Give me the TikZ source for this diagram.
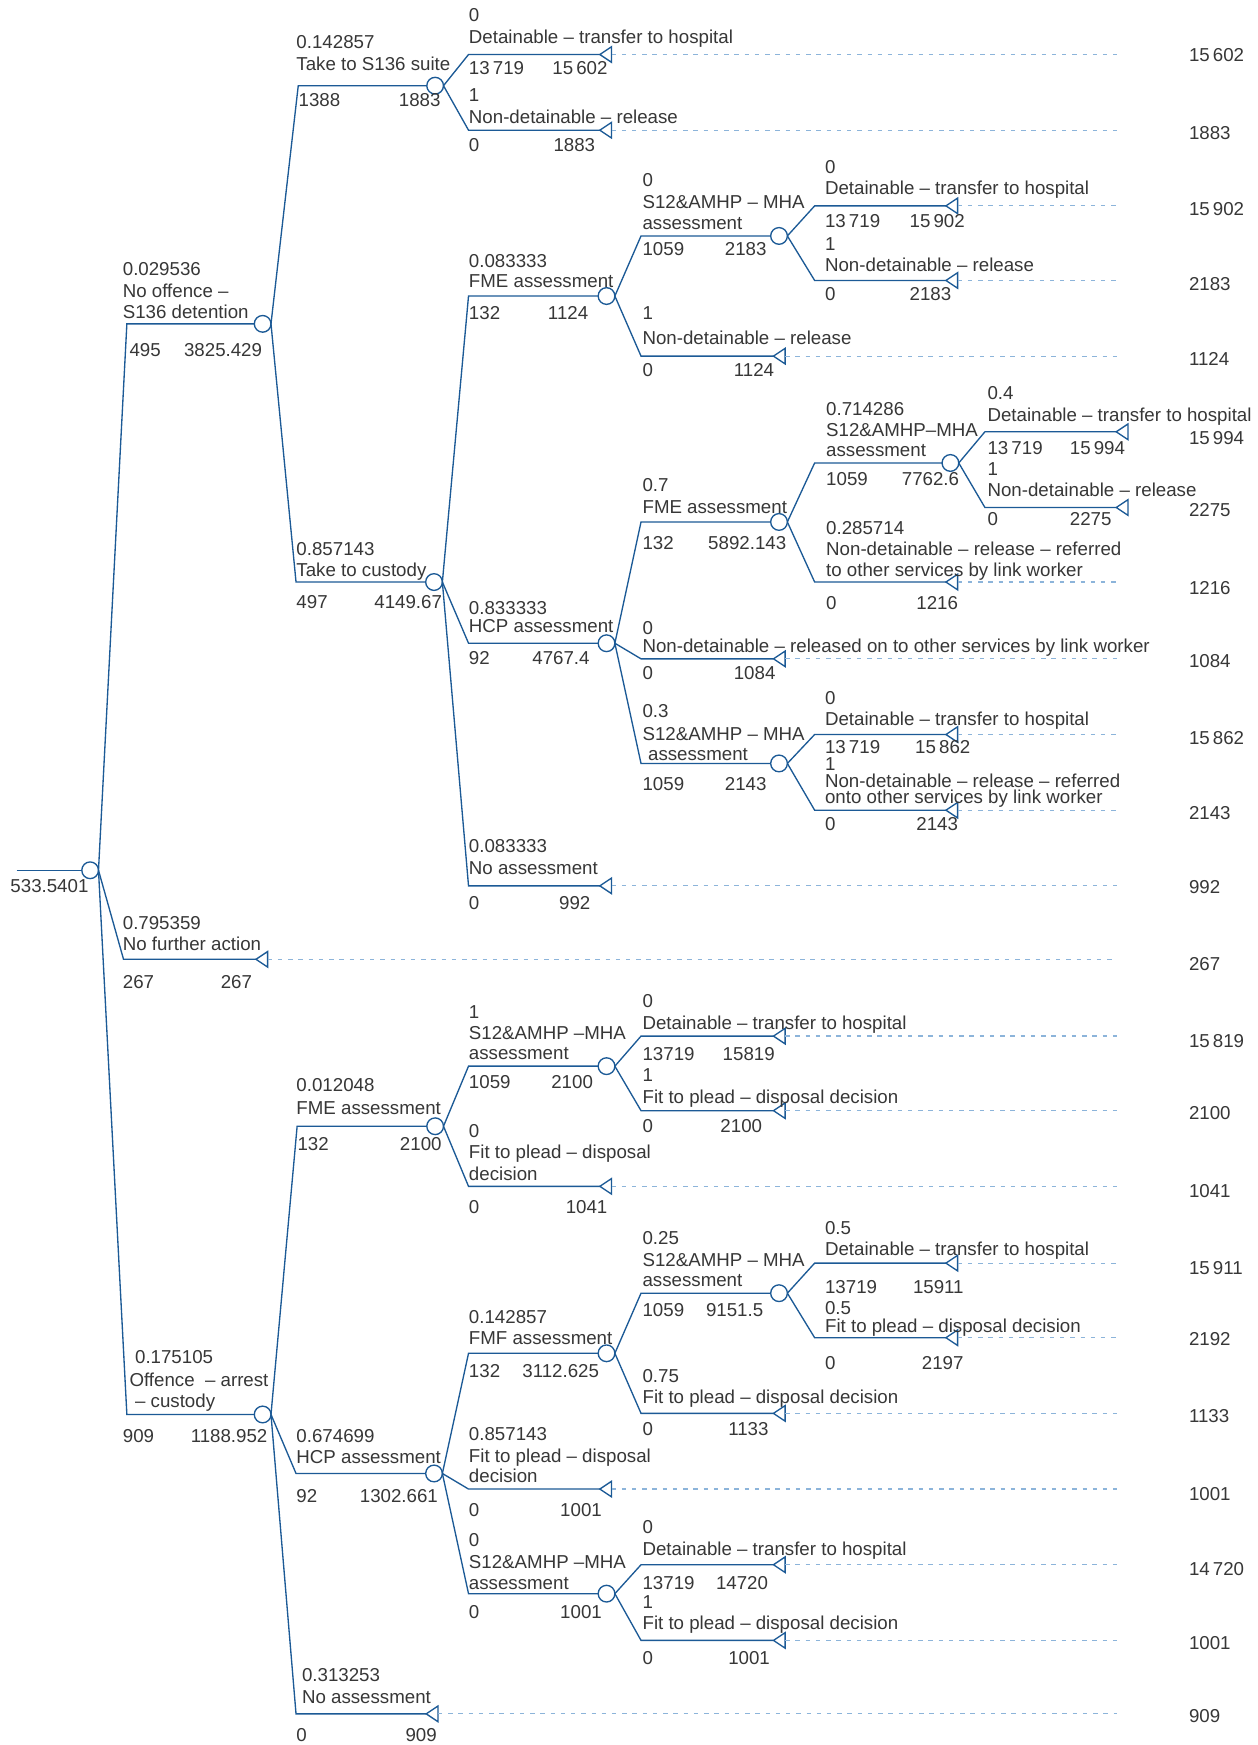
\documentclass[tikz,border=0pt]{standalone}
\usepackage{fontspec}
\setmainfont{Liberation Sans}
\usetikzlibrary{shapes.geometric}
\definecolor{linec}{RGB}{28,90,150}
\definecolor{dotc}{RGB}{140,180,218}
\definecolor{txtc}{RGB}{55,55,55}
\newcounter{lbc}
\newcommand\lb[3]{\stepcounter{lbc}\node[lab] (L\arabic{lbc}) at (#1,#2) {#3};}
\newcommand\tv[2]{\stepcounter{lbc}\node[lab] (V\arabic{lbc}) at (1068,#1) {#2};}
% chance branch: parent, name, xstart, y, xcircle
\newcommand\cbr[5]{%
  \coordinate (#2s) at (#3,#4);
  \node[chance] (#2) at (#5,#4) {};
  \draw[br] (#1.east) -- (#2s) -- (#2.west);}
% terminal branch with dotted leader
\newcommand\tbr[5]{%
  \coordinate (#2s) at (#3,#4);
  \node[term] (#2) at (#5,#4) {};
  \coordinate (#2e) at (1004,#4);
  \draw[br] (#1.east) -- (#2s) -- (#2.apex);
  \draw[dots] (#2.lower side) -- (#2e);}
% terminal branch without leader
\newcommand\tbrn[5]{%
  \coordinate (#2s) at (#3,#4);
  \node[term] (#2) at (#5,#4) {};
  \draw[br] (#1.east) -- (#2s) -- (#2.apex);}
\begin{document}
\begin{tikzpicture}[x=0.5pt,y=-0.5pt,
  br/.style={draw=linec,line width=0.6pt,line join=miter},
  dots/.style={draw=dotc,line width=0.55pt,dash pattern=on 2pt off 2.6pt},
  chance/.style={circle,draw=linec,fill=white,line width=0.6pt,minimum size=7.5pt,inner sep=0pt,outer sep=0pt},
  term/.style={isosceles triangle,isosceles triangle stretches,shape border rotate=180,
    draw=linec,fill=white,line width=0.6pt,minimum width=7pt,minimum height=5.25pt,inner sep=0pt,outer sep=0pt,anchor=apex},
  lab/.style={anchor=base west,inner sep=0pt,text=txtc,font=\fontsize{8.4}{9.5}\selectfont}]
\useasboundingbox (0,0) rectangle (1130,1568);
\fill[white] (0,0) rectangle (1130,1568);
% root
\coordinate (rin) at (15,782);
\node[chance] (root) at (81,782) {};
\draw[br] (rin) -- (root.west);
\lb{9}{802}{533.5401}
% level 1
\cbr{root}{A}{114}{291}{236}
\lb{110}{248}{0.029536}
\lb{110}{267}{No offence –}
\lb{110}{286}{S136 detention}
\lb{116}{320}{495}
\lb{165}{320}{3825.429}
\tbr{root}{N}{111}{862}{230}
\lb{110}{835}{0.795359}
\lb{110}{854}{No further action}
\lb{110}{888}{267}
\lb{198}{888}{267}
\tv{872}{267}
\cbr{root}{C}{114}{1271}{236}
\lb{121}{1225}{0.175105}
\lb{116}{1246}{Offence\ \ – arrest}
\lb{121}{1265}{– custody}
\lb{110}{1296}{909}
\lb{171}{1296}{1188.952}
% A subtree
\cbr{A}{a1}{268}{77}{391}
\lb{266}{44}{0.142857}
\lb{266}{63}{Take to S136 suite}
\lb{268}{96}{1388}
\lb{358}{96}{1883}
\tbr{a1}{a1d}{421}{49}{539}
\lb{421}{19}{0}
\lb{421}{39}{Detainable – transfer to hospital}
\lb{421}{67}{13\,719}
\lb{496}{67}{15\,602}
\tv{55}{15\,602}
\tbr{a1}{a1n}{421}{117}{539}
\lb{421}{91}{1}
\lb{421}{111}{Non-detainable – release}
\lb{421}{136}{0}
\lb{497}{136}{1883}
\tv{125}{1883}
\cbr{A}{a2}{266}{523}{390}
\lb{266}{499}{0.857143}
\lb{266}{518}{Take to custody}
\lb{266}{547}{497}
\lb{336}{547}{4149.67}
\cbr{a2}{fmeA}{421}{266}{545}
\lb{421}{240}{0.083333}
\lb{421}{258}{FME assessment}
\lb{421}{287}{132}
\lb{492}{287}{1124}
\cbr{fmeA}{sA}{576}{212}{700}
\lb{577}{168}{0}
\lb{577}{187}{S12\&AMHP – MHA}
\lb{577}{206}{assessment}
\lb{577}{230}{1059}
\lb{651}{230}{2183}
\tbr{sA}{sA1}{732}{185}{850}
\lb{741}{156}{0}
\lb{741}{175}{Detainable – transfer to hospital}
\lb{741}{204}{13\,719}
\lb{817}{204}{15\,902}
\tv{194}{15\,902}
\tbr{sA}{sA2}{732}{252}{850}
\lb{741}{225}{1}
\lb{741}{244}{Non-detainable – release}
\lb{741}{270}{0}
\lb{817}{270}{2183}
\tv{261}{2183}
\tbr{fmeA}{ndA}{576}{320}{695}
\lb{577}{287}{1}
\lb{577}{310}{Non-detainable – release}
\lb{577}{338}{0}
\lb{659}{338}{1124}
\tv{328}{1124}
\cbr{a2}{hcpA}{421}{578}{545}
\lb{421}{552}{0.833333}
\lb{421}{568}{HCP assessment}
\lb{421}{597}{92}
\lb{478}{597}{4767.4}
\cbr{hcpA}{fmeB}{576}{469}{700}
\lb{577}{442}{0.7}
\lb{577}{461}{FME assessment}
\lb{577}{494}{132}
\lb{636}{494}{5892.143}
\cbr{fmeB}{sB}{732}{416}{854}
\lb{742}{373}{0.714286}
\lb{742}{392}{S12\&AMHP–MHA}
\lb{742}{410}{assessment}
\lb{742}{436}{1059}
\lb{810}{436}{7762.6}
\tbrn{sB}{sB1}{885}{388}{1003}
\lb{887}{359}{0.4}
\lb{887}{379}{Detainable – transfer to hospital}
\lb{887}{408}{13\,719}
\lb{961}{408}{15\,994}
\tv{399}{15\,994}
\tbrn{sB}{sB2}{885}{456}{1003}
\lb{887}{427}{1}
\lb{887}{446}{Non-detainable – release}
\lb{887}{472}{0}
\lb{961}{472}{2275}
\tv{464}{2275}
\tbr{fmeB}{ndB}{732}{523}{850}
\lb{742}{480}{0.285714}
\lb{742}{499}{Non-detainable – release – referred}
\lb{742}{518}{to other services by link worker}
\lb{742}{548}{0}
\lb{823}{548}{1216}
\tv{534}{1216}
\tbr{hcpA}{ndC}{576}{592}{695}
\lb{577}{570}{0}
\lb{577}{586}{Non-detainable – released on to other services by link worker}
\lb{577}{611}{0}
\lb{659}{611}{1084}
\tv{600}{1084}
\cbr{hcpA}{sC}{576}{686}{700}
\lb{577}{645}{0.3}
\lb{577}{665}{S12\&AMHP – MHA}
\lb{582}{683}{assessment}
\lb{577}{710}{1059}
\lb{651}{710}{2143}
\tbr{sC}{sC1}{732}{660}{850}
\lb{741}{633}{0}
\lb{741}{652}{Detainable – transfer to hospital}
\lb{741}{677}{13\,719}
\lb{822}{677}{15\,862}
\tv{669}{15\,862}
\tbr{sC}{sC2}{732}{728}{850}
\lb{741}{692}{1}
\lb{741}{708}{Non-detainable – release – referred}
\lb{741}{722}{onto other services by link worker}
\lb{741}{746}{0}
\lb{823}{746}{2143}
\tv{736}{2143}
\tbr{a2}{naA}{421}{796}{539}
\lb{421}{766}{0.083333}
\lb{421}{786}{No assessment}
\lb{421}{817}{0}
\lb{502}{817}{992}
\tv{803}{992}
% C subtree
\cbr{C}{fmeC}{267}{1012}{391}
\lb{266}{981}{0.012048}
\lb{266}{1001}{FME assessment}
\lb{267}{1034}{132}
\lb{359}{1034}{2100}
\cbr{fmeC}{sD}{421}{958}{545}
\lb{421}{915}{1}
\lb{421}{934}{S12\&AMHP –MHA}
\lb{421}{952}{assessment}
\lb{421}{978}{1059}
\lb{495}{978}{2100}
\tbr{sD}{sD1}{576}{931}{695}
\lb{577}{905}{0}
\lb{577}{925}{Detainable – transfer to hospital}
\lb{577}{953}{13719}
\lb{649}{953}{15819}
\tv{941}{15\,819}
\tbr{sD}{sD2}{576}{998}{695}
\lb{577}{972}{1}
\lb{577}{992}{Fit to plead – disposal decision}
\lb{577}{1018}{0}
\lb{647}{1018}{2100}
\tv{1006}{2100}
\tbr{fmeC}{fpA}{421}{1066}{539}
\lb{421}{1022}{0}
\lb{421}{1041}{Fit to plead – disposal}
\lb{421}{1061}{decision}
\lb{421}{1090}{0}
\lb{508}{1090}{1041}
\tv{1076}{1041}
\cbr{C}{hcpC}{266}{1324}{390}
\lb{266}{1296}{0.674699}
\lb{266}{1315}{HCP assessment}
\lb{266}{1350}{92}
\lb{323}{1350}{1302.661}
\cbr{hcpC}{fmf}{421}{1216}{545}
\lb{421}{1189}{0.142857}
\lb{421}{1208}{FMF assessment}
\lb{421}{1238}{132}
\lb{469}{1238}{3112.625}
\cbr{fmf}{sE}{576}{1162}{700}
\lb{577}{1118}{0.25}
\lb{577}{1138}{S12\&AMHP – MHA}
\lb{577}{1156}{assessment}
\lb{577}{1183}{1059}
\lb{634}{1183}{9151.5}
\tbr{sE}{sE1}{732}{1135}{850}
\lb{741}{1109}{0.5}
\lb{741}{1128}{Detainable – transfer to hospital}
\lb{741}{1162}{13719}
\lb{820}{1162}{15911}
\tv{1145}{15\,911}
\tbr{sE}{sE2}{732}{1202}{850}
\lb{741}{1181}{0.5}
\lb{741}{1197}{Fit to plead – disposal decision}
\lb{741}{1231}{0}
\lb{828}{1231}{2197}
\tv{1209}{2192}
\tbr{fmf}{fpB}{576}{1270}{695}
\lb{577}{1242}{0.75}
\lb{577}{1261}{Fit to plead – disposal decision}
\lb{577}{1290}{0}
\lb{654}{1290}{1133}
\tv{1278}{1133}
\tbr{hcpC}{fpC}{421}{1338}{539}
\lb{421}{1294}{0.857143}
\lb{421}{1314}{Fit to plead – disposal}
\lb{421}{1332}{decision}
\lb{421}{1363}{0}
\lb{503}{1363}{1001}
\tv{1348}{1001}
\cbr{hcpC}{sF}{421}{1432}{545}
\lb{421}{1390}{0}
\lb{421}{1409}{S12\&AMHP –MHA}
\lb{421}{1428}{assessment}
\lb{421}{1454}{0}
\lb{503}{1454}{1001}
\tbr{sF}{sF1}{576}{1406}{695}
\lb{577}{1378}{0}
\lb{577}{1398}{Detainable – transfer to hospital}
\lb{577}{1428}{13719}
\lb{643}{1428}{14720}
\tv{1416}{14\,720}
\tbr{sF}{sF2}{576}{1474}{695}
\lb{577}{1445}{1}
\lb{577}{1464}{Fit to plead – disposal decision}
\lb{577}{1496}{0}
\lb{654}{1496}{1001}
\tv{1482}{1001}
\tbr{C}{naC}{266}{1540}{383}
\lb{271}{1511}{0.313253}
\lb{271}{1531}{No assessment}
\lb{266}{1565}{0}
\lb{364}{1565}{909}
\tv{1548}{909}
\end{tikzpicture}
\end{document}
